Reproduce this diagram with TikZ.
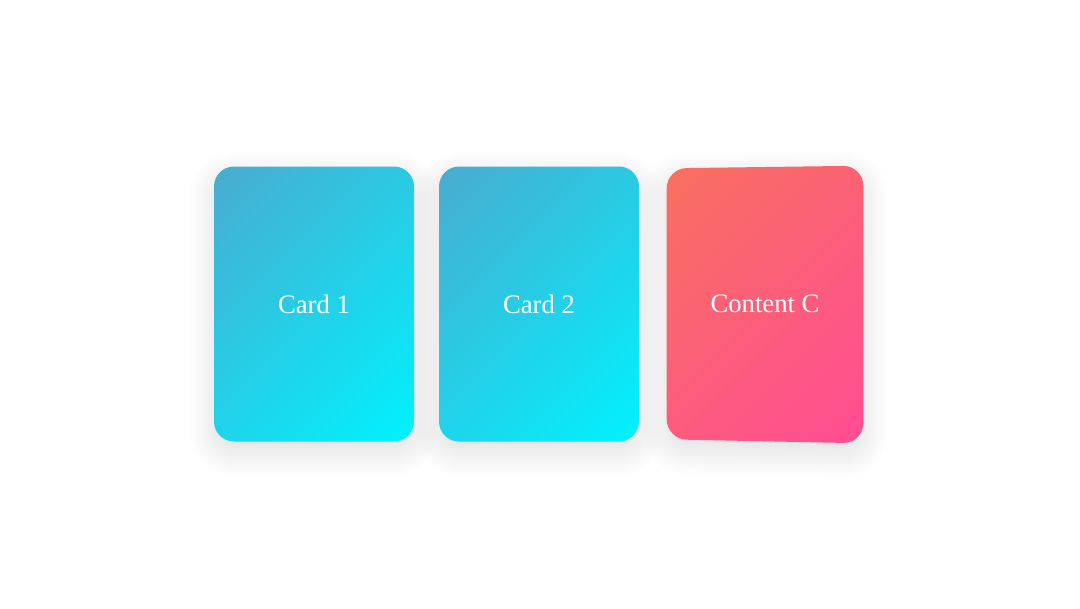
\documentclass[tikz,border=0pt]{standalone}
\usepackage{fontspec}
\setmainfont{Liberation Serif}
\definecolor{blueA}{HTML}{4AABCF}
\definecolor{blueB}{HTML}{00F2FE}
\definecolor{pinkA}{HTML}{F8705F}
\definecolor{pinkB}{HTML}{FF4D94}
\pgfdeclareverticalshading{blueshade}{100bp}{color(0bp)=(blueB); color(14.6bp)=(blueB); color(85.4bp)=(blueA); color(100bp)=(blueA)}
\pgfdeclareverticalshading{pinkshade}{100bp}{color(0bp)=(pinkB); color(14.6bp)=(pinkB); color(85.4bp)=(pinkA); color(100bp)=(pinkA)}
\tikzset{
  shadowlayer/.style={fill=black, fill opacity=0.008, draw=none},
  bluecard/.style={rectangle, rounded corners=15pt, minimum width=150pt, minimum height=206.25pt, inner sep=0pt, shading=blueshade, shading angle=45},
  cardtext/.style={text=white, font=\fontsize{20}{24}\selectfont, inner sep=0pt},
}
% soft shadow: x1 y1 x2 y2 of a card (px, y down)
\newcommand\softcardshadow[4]{%
  \foreach \e in {-15,-12,...,24}{%
    \pgfmathsetmacro\rr{max(20+\e,2)*0.75}%
    \fill[shadowlayer, rounded corners=\rr pt] (#1-\e,#2+10-\e) rectangle (#3+\e,#4+10+\e);
  }}
\begin{document}
\begin{tikzpicture}[x=0.75pt, y=-0.75pt]
\useasboundingbox[fill=white] (0,0) rectangle (1080,608);
\softcardshadow{214}{167}{414}{441}
\softcardshadow{439}{167}{639}{441}
\foreach \e in {-15,-12,...,24}{%
  \pgfmathsetmacro\rr{max(20+\e,2)*0.75}%
  \fill[shadowlayer, rounded corners=\rr pt] (666.7-\e,178.3-\e) -- (863.3+\e,175.7-\e) -- (863.3+\e,453.3+\e) -- (666.7-\e,449.3+\e) -- cycle;
}
\node[bluecard] (card1) at (314,304) {};
\node[cardtext] (t1) at (card1.center) {Card 1};
\node[bluecard] (card2) at (539,304) {};
\node[cardtext] (t2) at (card2.center) {Card 2};
\coordinate (c3tl) at (666.7,168.3);
\coordinate (c3tr) at (863.3,165.7);
\coordinate (c3br) at (863.3,443.3);
\coordinate (c3bl) at (666.7,439.3);
\path[rounded corners=15pt, shading=pinkshade, shading angle=45] (c3tl) -- (c3tr) -- (c3br) -- (c3bl) -- cycle;
\node[cardtext] (t3) at (765,304) {Content C};
\end{tikzpicture}
\end{document}
